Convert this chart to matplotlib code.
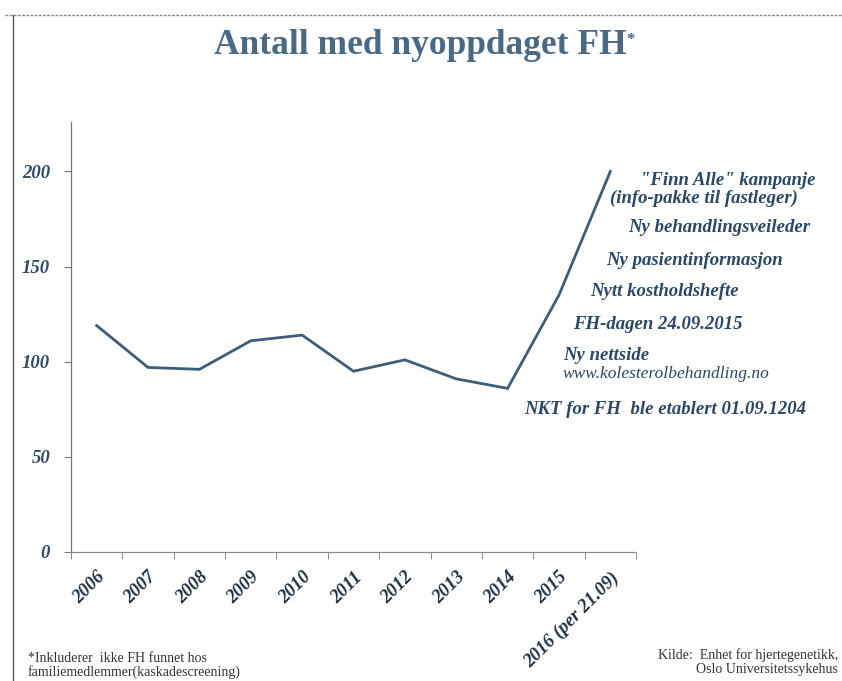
import matplotlib
matplotlib.use("Agg")
import matplotlib.pyplot as plt
from matplotlib.lines import Line2D
import numpy as np

categories = ["2006", "2007", "2008", "2009", "2010", "2011", "2012", "2013",
              "2014", "2015", "2016 (per 21.09)"]
values = [119, 97, 96, 111, 114, 95, 101, 91, 86, 135, 200]
yticks = [0, 50, 100, 150, 200]

annotations = [
    ('"Finn Alle" kampanje', 640, 180, True),
    ('(info-pakke til fastleger)', 610, 198, True),
    ('Ny behandlingsveileder', 628, 228, True),
    ('Ny pasientinformasjon', 606, 260, True),
    ('Nytt kostholdshefte', 590, 292, True),
    ('FH-dagen 24.09.2015', 573, 325, True),
    ('Ny nettside', 563, 356, True),
    ('www.kolesterolbehandling.no', 563, 374, False),
    ('NKT for FH  ble etablert 01.09.1204', 524, 409, True),
]

W, H = 842, 681
fig = plt.figure(figsize=(W / 100, H / 100), dpi=100)
fig.patch.set_facecolor("white")

ax = fig.add_axes([71 / W, 1 - 552 / H, (636 - 71) / W, (552 - 122) / H])
x = np.arange(len(categories))
ax.plot(x, values, color="#3f5d78", lw=2.0, solid_joinstyle="miter")
ax.set_xlim(-0.5, len(categories) - 0.5)
ax.set_ylim(0, 226)

for s in ["top", "right"]:
    ax.spines[s].set_visible(False)
ax.spines["left"].set_color("#777777")
ax.spines["left"].set_linewidth(0.9)
ax.spines["bottom"].set_color("#888888")
ax.spines["bottom"].set_linewidth(0.9)
ax.spines["bottom"].set_linestyle((0, (3, 1)))

serif = ["Liberation Serif", "DejaVu Serif"]
tickcol = "#2f4b66"
ax.set_yticks(yticks)
ax.set_yticklabels([str(v) for v in yticks], family=serif, style="italic",
                   weight="bold", fontsize=13.5, color=tickcol)
ax.tick_params(axis="y", length=5, color="#777777", pad=10)

ax.set_xticks(x)
ax.set_xticklabels(categories, family=serif, style="italic", weight="bold",
                   fontsize=13.5, color="#1f2f40", rotation=45, ha="right",
                   va="top", rotation_mode="anchor")
ax.tick_params(axis="x", which="major", length=0, pad=12)
ax.set_xticks(np.arange(-0.5, len(categories)), minor=True)
ax.tick_params(axis="x", which="minor", length=5, color="#777777")

# Title
fig.text(420 / W, 1 - 45 / H, "Antall med nyoppdaget FH", ha="center",
         va="center", family=serif, weight="bold", fontsize=25.5,
         color="#4a6985")
fig.text(626 / W, 1 - 40 / H, "*", ha="left", va="center", family=serif,
         weight="bold", fontsize=12, color="#4a6985")

for txt, px, py, bold in annotations:
    fig.text(px / W, 1 - py / H, txt, ha="left", va="center", family=serif,
             style="italic", weight="bold" if bold else "normal",
             fontsize=13.5 if bold else 12.5, color="#2b4765")

# footnotes
fig.text(28 / W, 1 - 658 / H, "*Inkluderer  ikke FH funnet hos", ha="left",
         va="center", family=serif, fontsize=10, color="#333333")
fig.text(28 / W, 1 - 672 / H, "familiemedlemmer(kaskadescreening)", ha="left",
         va="center", family=serif, fontsize=10, color="#333333")
fig.text(838 / W, 1 - 655 / H, "Kilde:  Enhet for hjertegenetikk,", ha="right",
         va="center", family=serif, fontsize=10, color="#333333")
fig.text(838 / W, 1 - 670 / H, "Oslo Universitetssykehus", ha="right",
         va="center", family=serif, fontsize=10, color="#333333")

# page border lines from the scan
fig.add_artist(Line2D([13 / W, 13 / W], [0, 1 - 15 / H], color="#555555", lw=1.0))
fig.add_artist(Line2D([5 / W, 1], [1 - 15 / H, 1 - 15 / H], color="#888888",
                      lw=1.0, linestyle=(0, (2, 1))))

fig.savefig("out.png", dpi=100)
